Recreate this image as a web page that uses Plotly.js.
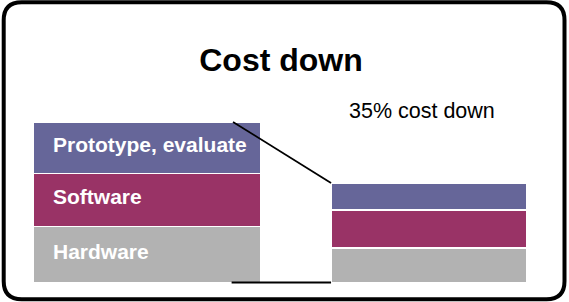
<!DOCTYPE html>
<html>
<head>
<meta charset="utf-8">
<script src="https://cdn.plot.ly/plotly-3.0.1.min.js"></script>
<style>
  html, body { margin: 0; padding: 0; background: #fff; }
  #chart { width: 569px; height: 302px; }
</style>
</head>
<body>
<div id="chart"></div>
<script>
// ---- Data ----
const categories = ['Before', 'After'];
const hardware = [35, 21.5];
const software = [33, 23.5];
const prototype = [32, 17];
const seriesNames = ['Hardware', 'Software', 'Prototype, evaluate'];
const seriesColors = ['#B2B2B2', '#993366', '#666699'];
const titleText = 'Cost down';
const noteText = '35% cost down';

// ---- Build ----
const series = [hardware, software, prototype];
const barWidths = [0.809, 0.695];
const FONT = 'Liberation Sans, Arial, sans-serif';

const traces = series.map((vals, i) => ({
  type: 'bar',
  x: categories,
  y: vals,
  name: seriesNames[i],
  width: barWidths,
  marker: { color: seriesColors[i], line: { color: '#ffffff', width: 1.6 } },
  hoverinfo: 'skip'
}));

const totals = categories.map((_, j) => series.reduce((s, arr) => s + arr[j], 0));

// labels on first bar
const annotations = [];
let base = 0;
series.forEach((vals, i) => {
  annotations.push({
    x: -0.340, y: base + vals[0] / 2, xref: 'x', yref: 'y',
    text: '<b>' + seriesNames[i] + '</b>',
    showarrow: false, xanchor: 'left', yanchor: 'middle', yshift: 3,
    font: { family: FONT, size: 21, color: '#ffffff' }
  });
  base += vals[0];
});
annotations.push({
  x: 1, y: 107, xref: 'x', yref: 'y', xshift: -7,
  text: noteText, showarrow: false, xanchor: 'center', yanchor: 'middle',
  font: { family: FONT, size: 21.5, color: '#000000' }
});

// connector lines (from totals)
const rightLeftEdge = 1 - barWidths[1] / 2;
const shapes = [
  { type: 'line', xref: 'x', yref: 'y', x0: 0.305, y0: totals[0], x1: rightLeftEdge, y1: totals[1],
    line: { color: '#000', width: 1.8 }, layer: 'above' },
  { type: 'line', xref: 'x', yref: 'y', x0: 0.30, y0: 0, x1: rightLeftEdge, y1: 0,
    line: { color: '#000', width: 2 }, layer: 'above' }
];

// rounded frame (paper coords)
const W = 569, H = 302;
const fx0 = 3.7 / W, fx1 = 564.5 / W, fy0 = 1 - 2.2 / H, fy1 = 1 - 299.3 / H;
const rx = 18 / W, ry = 18 / H;
const framePath = `M ${fx0 + rx},${fy0} L ${fx1 - rx},${fy0} Q ${fx1},${fy0} ${fx1},${fy0 - ry} ` +
  `L ${fx1},${fy1 + ry} Q ${fx1},${fy1} ${fx1 - rx},${fy1} L ${fx0 + rx},${fy1} ` +
  `Q ${fx0},${fy1} ${fx0},${fy1 + ry} L ${fx0},${fy0 - ry} Q ${fx0},${fy0} ${fx0 + rx},${fy0} Z`;
shapes.push({ type: 'path', xref: 'paper', yref: 'paper', path: framePath,
  line: { color: '#000', width: 4 }, layer: 'above' });

const layout = {
  width: W, height: H,
  margin: { l: 0, r: 0, t: 0, b: 0, pad: 0 },
  paper_bgcolor: '#ffffff', plot_bgcolor: '#ffffff',
  barmode: 'stack',
  showlegend: false,
  title: {
    text: '<b>' + titleText + '</b>',
    x: 281 / W, xanchor: 'center', xref: 'paper',
    y: 1 - 60 / H, yanchor: 'middle', yref: 'container',
    font: { family: FONT, size: 32, color: '#000' }
  },
  xaxis: { range: [-0.521, 1.496], visible: false, fixedrange: true },
  yaxis: { range: [-12.15, 176], visible: false, fixedrange: true },
  annotations: annotations,
  shapes: shapes
};

Plotly.newPlot('chart', traces, layout, { displayModeBar: false, staticPlot: true });
</script>
</body>
</html>
